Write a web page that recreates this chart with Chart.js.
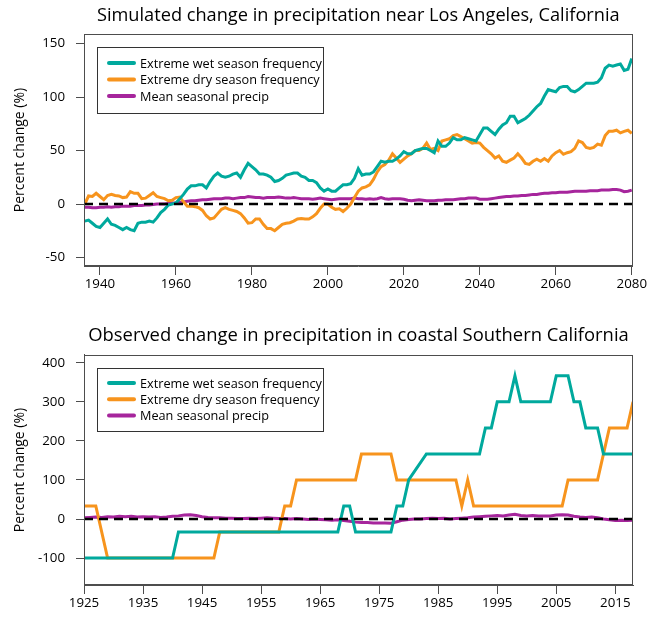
<!DOCTYPE html>
<html>
<head>
<meta charset="utf-8">
<script src="https://cdn.jsdelivr.net/npm/chart.js@4.4.0/dist/chart.umd.min.js"></script>
<style>
  body { margin: 0; background: #fff; }
  #simBox { position: absolute; left: 0; top: 0; }
  #obsBox { position: absolute; left: 0; top: 308px; }
</style>
</head>
<body>
<div id="simBox"><canvas id="simChart" width="648" height="308"></canvas></div>
<div id="obsBox"><canvas id="obsChart" width="648" height="309"></canvas></div>
<script>
// ---- simulated (top panel), one value per year from 1936 to 2080
const simStartYear = 1936;
const simWet = [
  -16, -15, -18, -21,
  -22, -18, -14, -19, -20, -22, -24, -22, -24, -25,
  -18, -17, -17, -16, -17, -13, -8, -5, -1, 0,
  1, 5, 9, 14, 17, 17, 18, 18, 15, 21,
  26, 29, 26, 25, 26, 28, 29, 25, 32, 38,
  35, 32, 28, 28, 27, 25, 21, 22, 24, 27,
  28, 29, 29, 26, 25, 22, 22, 20, 15, 12,
  14, 12, 12, 15, 18, 18, 19, 24, 33, 27,
  28, 28, 30, 35, 40, 39, 40, 40, 42, 45,
  49, 47, 47, 50, 51, 52, 52, 50, 48, 59,
  54, 54, 57, 62, 60, 60, 62, 61, 60, 59,
  65, 71, 71, 68, 65, 70, 74, 76, 82, 82,
  76, 78, 80, 83, 87, 91, 94, 101, 107, 106,
  105, 109, 110, 110, 106, 105, 107, 110, 113, 113,
  113, 114, 118, 127, 130, 129, 130, 131, 125, 126,
  136
];
const simDry = [
  0, 7.5, 7, 10,
  7, 4, 8, 9, 8, 7.5, 6, 6.5, 11.5, 10,
  10, 5, 5.5, 8, 10.5, 7, 6, 5, 3, 3.5,
  6, 6.5, 2, -2, -2, -2.5, -3.5, -6, -11, -14,
  -13, -9, -5, -3.5, -5, -6, -7, -9, -13, -18,
  -17.5, -14, -14, -19, -23, -23, -25, -22, -19, -18,
  -17.5, -16, -14, -13.5, -14, -14, -12, -9, -4, 0,
  0, -3, -5, -4.5, -7, -4, 0, 6, 12, 15,
  16, 18, 23, 30, 35, 37, 41, 47, 43, 39,
  42, 45, 47, 50, 50, 52, 57, 51, 52, 50,
  59, 60, 61, 64, 65, 63, 61, 59, 57, 57.5,
  57, 53, 50, 47, 43, 45, 40, 39, 41, 43,
  47, 43, 38, 37, 40, 42, 40, 42.5, 40, 45,
  48, 50, 46.5, 48, 49, 52, 59, 57.5, 53, 52,
  53, 56, 55, 64, 68, 68, 69, 66.5, 68, 69,
  66
];
const simMean = [
  -3, -3, -3.5, -3.5,
  -3, -3, -2.5, -3, -2.5, -2.5, -2, -2, -2, -1.5,
  -1.5, -1.5, -1, -1, -0.5, 0, 0, 0, 0.5, 1,
  1, 1.5, 2, 2.5, 3, 3, 3.5, 4, 4, 4.5,
  5, 5, 5, 5.5, 5.5, 5, 5.5, 6, 6, 7,
  6.5, 6, 6, 5.5, 6, 6, 6, 6.5, 6, 5.5,
  5.5, 6, 5.5, 5, 5, 5, 4.5, 5, 5.5, 5,
  4.5, 4, 4.5, 5, 5, 5, 5, 5.5, 5, 5,
  4.5, 5, 4.5, 5, 6, 5, 4.5, 5, 5, 5,
  4.5, 3.5, 3, 3.5, 4, 3.5, 3, 3, 3, 3.5,
  3.5, 4, 4, 4, 4.5, 5, 5, 5.5, 5.5, 5.5,
  4.5, 4.5, 4.5, 5, 5.5, 6, 6.5, 7, 7, 7.5,
  7.5, 8, 8, 8.5, 9, 9, 9.5, 10, 10, 10.5,
  10.5, 11, 11, 11, 11.5, 12, 12, 12, 12, 12.5,
  12.5, 12.5, 13, 13, 13, 13.5, 13.5, 13, 11.5, 12,
  13
];
const simXTicks = [1940, 1960, 1980, 2000, 2020, 2040, 2060, 2080];
const simYTicks = [-50, 0, 50, 100, 150];

// ---- observed (bottom panel)
const obsWetYears = [1925, 1940, 1941, 1968, 1969, 1970, 1971, 1977, 1978, 1979, 1980, 1983, 1992, 1993,
  1994, 1995, 1997, 1998, 1999, 2004, 2005, 2007, 2008, 2009, 2010, 2012, 2013, 2018];
const obsWetValues = [-100, -100, -33.3, -33.3, 33.3, 33.3, -33.3, -33.3, 33.3, 33.3, 100, 166.7, 166.7, 233.3,
  233.3, 300, 300, 366.7, 300, 300, 366.7, 366.7, 300, 300, 233.3, 233.3, 166.7, 166.7];
const obsDryYears = [1925, 1927, 1929, 1947, 1948, 1958, 1959, 1960, 1961, 1971, 1972, 1977, 1978, 1988,
  1989, 1990, 1991, 2006, 2007, 2012, 2014, 2017, 2018];
const obsDryValues = [33.3, 33.3, -100, -100, -33.3, -33.3, 33.3, 33.3, 100, 100, 166.7, 166.7, 100, 100,
  33.3, 100, 33.3, 33.3, 100, 100, 233.3, 233.3, 300];
const obsMeanStart = 1925;
const obsMean = [
  3, 4, 5, 4, 6,
  5, 7, 6, 7, 5, 6, 5, 6, 4, 5,
  7, 8, 10, 11, 9, 6, 4, 3, 3, 2,
  2, 1, 1, 2, 1, 2, 3, 2, 1, 1,
  0, 1, 0, -1, 0, -1, -2, -3, -2, -4,
  -6, -8, -9, -9, -10, -10, -10, -11, -7, -3,
  -1, 0, 0, 1, 2, 1, 2, 0, 1, 2,
  3, 5, 6, 7, 8, 9, 8, 10, 12, 9,
  8, 9, 8, 8, 8, 10, 11, 10, 7, 5,
  4, 5, 3, 0, -2, -4, -3, -4, -3
];
const obsXTicks = [1925, 1935, 1945, 1955, 1965, 1975, 1985, 1995, 2005, 2015];
const obsYTicks = [-100, 0, 100, 200, 300, 400];

const labelWet = "Extreme wet season frequency";
const labelDry = "Extreme dry season frequency";
const labelMean = "Mean seasonal precip";

const tealColor = "#00A99D";
const orangeColor = "#F7941D";
const purpleColor = "#A6259C";
const axisColor = "#4d4d4d";

Chart.defaults.font.family = "'Open Sans', sans-serif";
Chart.defaults.color = "#000";

function yearly(start, values) {
  return values.map((v, i) => ({ x: start + i, y: v }));
}
function pairs(xs, ys) {
  return xs.map((x, i) => ({ x: x, y: ys[i] }));
}

// dashed zero line, box around plot, legend box
const zeroLine = {
  id: "zeroLine",
  afterDatasetsDraw(chart) {
    const { ctx, chartArea } = chart;
    const y = Math.round(chart.scales.y.getPixelForValue(0));
    ctx.save();
    ctx.strokeStyle = "#000";
    ctx.lineWidth = 2.5;
    ctx.setLineDash([9, 6]);
    ctx.beginPath();
    ctx.moveTo(chartArea.left, y);
    ctx.lineTo(chartArea.right, y);
    ctx.stroke();
    ctx.restore();
  }
};

const frame = {
  id: "frame",
  afterDraw(chart) {
    const { ctx, chartArea } = chart;
    ctx.save();
    ctx.strokeStyle = axisColor;
    ctx.lineWidth = 1;
    ctx.strokeRect(Math.round(chartArea.left) + 0.5, Math.round(chartArea.top) + 0.5,
      Math.round(chartArea.right - chartArea.left) - 1, Math.round(chartArea.bottom - chartArea.top) - 1);
    ctx.restore();
  }
};

const legendBox = {
  id: "legendBox",
  afterDraw(chart, args, opts) {
    const { ctx, chartArea } = chart;
    const x0 = Math.round(chartArea.left + opts.dx);
    const y0 = Math.round(chartArea.top + opts.dy);
    ctx.save();
    ctx.fillStyle = "#fff";
    ctx.fillRect(x0, y0, opts.w, opts.h);
    ctx.strokeStyle = "#333";
    ctx.lineWidth = 1;
    ctx.strokeRect(x0 + 0.5, y0 + 0.5, opts.w, opts.h);
    ctx.font = "12.7px 'Open Sans', sans-serif";
    ctx.textBaseline = "middle";
    chart.data.datasets.forEach((ds, i) => {
      const y = y0 + opts.first + i * opts.gap;
      ctx.strokeStyle = ds.borderColor;
      ctx.lineWidth = 4;
      ctx.lineCap = "round";
      ctx.beginPath();
      ctx.moveTo(x0 + 12, y);
      ctx.lineTo(x0 + 37, y);
      ctx.stroke();
      ctx.fillStyle = "#000";
      ctx.fillText(ds.label, x0 + 43, y + 1);
    });
    ctx.restore();
  }
};

function makeScales(xmin, xmax, xticks, ymin, ymax, yticks, xHeight) {
  return {
    x: {
      type: "linear",
      min: xmin,
      max: xmax,
      afterBuildTicks: (s) => { s.ticks = xticks.map((v) => ({ value: v })); },
      afterFit: (s) => { s.height = xHeight; },
      grid: { drawOnChartArea: false, drawTicks: true, tickLength: 9, color: axisColor },
      border: { display: true, color: axisColor },
      ticks: { font: { size: 13.3 }, padding: 1, maxRotation: 0, autoSkip: false, callback: (v) => String(v) }
    },
    y: {
      type: "linear",
      min: ymin,
      max: ymax,
      afterBuildTicks: (s) => { s.ticks = yticks.map((v) => ({ value: v })); },
      afterFit: (s) => { s.width = 84; },
      grid: { drawOnChartArea: false, drawTicks: true, tickLength: 8, color: axisColor },
      border: { display: true, color: axisColor },
      title: { display: true, text: "Percent change (%)", font: { size: 14 }, padding: { top: 12, bottom: 0 } },
      ticks: { font: { size: 13.3 }, padding: 11, autoSkip: false, callback: (v) => String(v) }
    }
  };
}

function lineSet(label, data, color) {
  return { label: label, data: data, borderColor: color, backgroundColor: color,
    borderWidth: 3, pointRadius: 0, tension: 0, fill: false };
}

const simChart = new Chart(document.getElementById("simChart"), {
  type: "line",
  data: {
    datasets: [
      lineSet(labelWet, yearly(simStartYear, simWet), tealColor),
      lineSet(labelDry, yearly(simStartYear, simDry), orangeColor),
      lineSet(labelMean, yearly(simStartYear, simMean), purpleColor)
    ]
  },
  options: {
    responsive: false,
    animation: false,
    layout: { padding: { left: 0, right: 15, top: 0, bottom: 0 } },
    scales: makeScales(1935.8, 2080.2, simXTicks, -58, 159, simYTicks, 42),
    plugins: {
      legend: { display: false },
      tooltip: { enabled: false },
      title: { display: true, fullSize: false, text: "Simulated change in precipitation near Los Angeles, California",
        font: { size: 18.2, weight: "normal" }, padding: { top: 5, bottom: 7.2 } },
      legendBox: { dx: 13, dy: 13, w: 226, h: 66, first: 16, gap: 16.5 }
    }
  },
  plugins: [zeroLine, frame, legendBox]
});

const obsChart = new Chart(document.getElementById("obsChart"), {
  type: "line",
  data: {
    datasets: [
      lineSet(labelWet, pairs(obsWetYears, obsWetValues), tealColor),
      lineSet(labelDry, pairs(obsDryYears, obsDryValues), orangeColor),
      lineSet(labelMean, yearly(obsMeanStart, obsMean), purpleColor)
    ]
  },
  options: {
    responsive: false,
    animation: false,
    layout: { padding: { left: 0, right: 15, top: 0, bottom: 0 } },
    scales: makeScales(1925, 2018, obsXTicks, -169, 420, obsYTicks, 32),
    plugins: {
      legend: { display: false },
      tooltip: { enabled: false },
      title: { display: true, fullSize: false, text: "Observed change in precipitation in coastal Southern California",
        font: { size: 18.4, weight: "normal" }, padding: { top: 17, bottom: 7.9 } },
      legendBox: { dx: 13, dy: 13, w: 226, h: 63, first: 15, gap: 16.3 }
    }
  },
  plugins: [zeroLine, frame, legendBox]
});
</script>
</body>
</html>
